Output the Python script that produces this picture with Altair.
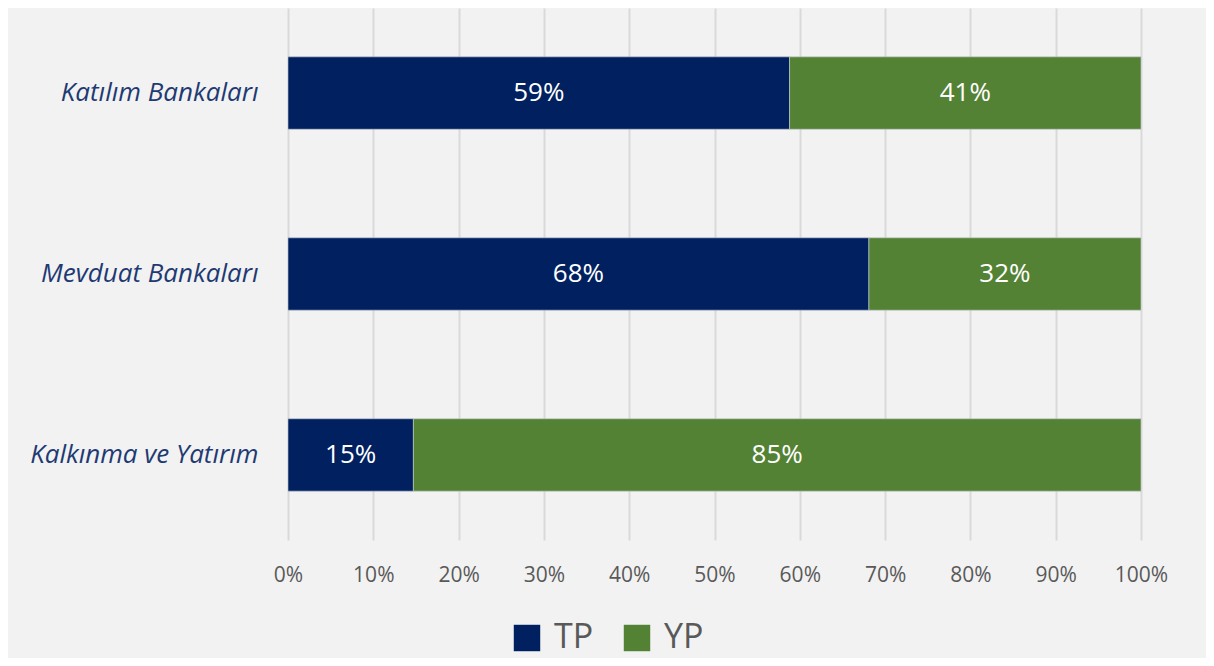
import altair as alt
import pandas as pd

categories = ["Katılım Bankaları", "Mevduat Bankaları", "Kalkınma ve Yatırım"]
tp_values = [58.8, 68.1, 14.7]
yp_values = [41.2, 31.9, 85.3]
series = ["TP", "YP"]
colors = ["#002060", "#548235"]

rows = []
for c, tp, yp in zip(categories, tp_values, yp_values):
    rows.append({"cat": c, "series": "TP", "ord": 0, "val": tp / 100})
    rows.append({"cat": c, "series": "YP", "ord": 1, "val": yp / 100})
df = pd.DataFrame(rows)

FONT = "Open Sans"

base = alt.Chart(df).transform_stack(
    stack="val", groupby=["cat"], as_=["v0", "v1"], sort=[alt.SortField("ord")]
).transform_calculate(mid="(datum.v0 + datum.v1) / 2")

yenc = alt.Y(
    "cat:N",
    sort=categories,
    title=None,
    scale=alt.Scale(paddingInner=0.6, paddingOuter=0.27),
    axis=alt.Axis(
        labelFont=FONT, labelFontStyle="italic", labelFontSize=26,
        labelColor="#1f3a73", labelPadding=30, ticks=False, domain=False,
        labelLimit=400, grid=False,
    ),
)

bars = base.mark_bar(stroke="#c8ccd4", strokeWidth=0.6).encode(
    x=alt.X(
        "v0:Q", title=None,
        scale=alt.Scale(domain=[0, 1], nice=False),
        axis=alt.Axis(
            format=".0%", values=[i / 10 for i in range(11)],
            labelFont=FONT, labelFontSize=21, labelColor="#595959",
            labelPadding=24, ticks=False, domain=False, labelFlush=False,
            grid=True, gridColor="#d9d9d9", gridWidth=2,
        ),
    ),
    x2="v1:Q",
    y=yenc,
    color=alt.Color(
        "series:N",
        scale=alt.Scale(domain=series, range=colors),
        legend=alt.Legend(
            title=None, orient="none", direction="horizontal",
            legendX=222, legendY=613,
            symbolType="square", symbolSize=700, symbolStrokeWidth=0,
            labelFont=FONT, labelFontSize=34, labelColor="#595959",
            columnPadding=26, labelOffset=10, padding=0,
        ),
    ),
    order=alt.Order("ord:Q"),
)

labels = base.mark_text(color="white", font=FONT, fontSize=26, baseline="middle").encode(
    x="mid:Q",
    y=alt.Y("cat:N", sort=categories),
    text=alt.Text("val:Q", format=".0%"),
)

chart = (
    alt.layer(bars, labels)
    .properties(
        width=853, height=532, background="#f2f2f2",
        padding={"left": 280, "top": 0, "right": 65, "bottom": 118},
        autosize=alt.AutoSizeParams(type="none"),
    )
    .configure_view(stroke=None)
)

chart.save("out.html", embed_options={"renderer": "svg", "actions": False})
